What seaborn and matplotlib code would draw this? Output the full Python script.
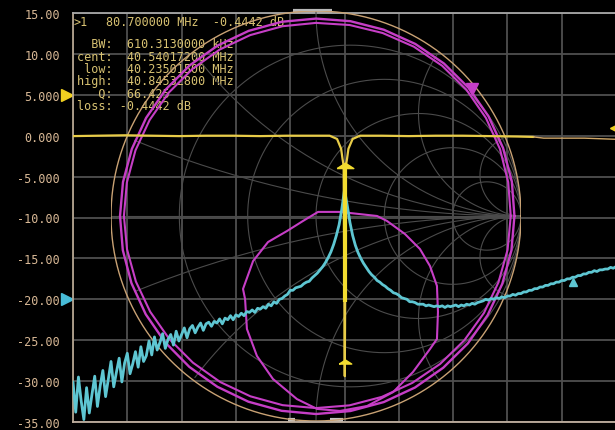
import numpy as np
import pandas as pd
import matplotlib
matplotlib.use("Agg")
import matplotlib.pyplot as plt
import seaborn as sns

# ---------------------------------------------------------------- sweep / scale
F_START, F_STOP = 0.3, 80.7          # MHz
DB_TOP, DB_BOTTOM = 15.0, -35.0      # dB

ytick_values = [15, 10, 5, 0, -5, -10, -15, -20, -25, -30, -35]
ytick_labels = ["15.00", "10.00", "5.000", "0.000", "-5.000", "-10.00",
                "-15.00", "-20.00", "-25.00", "-30.00", "-35.00"]

# ---------------------------------------------------------------- channel 2 (cyan), 201 sweep points
cyan_db = [
    -30.1, -33.8, -29.5, -32.4, -34.7, -30.8, -33.9, -31.6, -29.4, -33.1,
    -30.6, -28.7, -31.9, -29.8, -27.6, -30.7, -28.9, -27.2, -30.1, -27.8,
    -26.6, -29.1, -27.9, -26.4, -28.3, -25.8, -27.6, -26.9, -25.1, -26.8,
    -24.6, -26.2, -25.3, -24.2, -26.0, -24.9, -24.3, -25.6, -23.9, -25.1,
    -24.3, -23.5, -24.7, -23.6, -23.2, -24.1, -23.4, -22.9, -23.8, -23.0,
    -22.8, -23.3, -22.7, -22.9, -22.4, -23.0, -22.3, -22.5, -22.0, -22.5,
    -21.9, -22.1, -21.7, -22.0, -21.5, -21.6, -21.3, -21.6, -21.1, -21.2,
    -20.9, -21.1, -20.6, -20.8, -20.3, -20.5, -20.0, -19.9, -19.6, -19.4,
    -18.9, -18.9, -18.6, -18.5, -18.4, -18.1, -17.9, -17.8, -17.4, -17.1,
    -16.8, -16.4, -16.0, -15.5, -14.9, -14.2, -13.3, -12.2, -10.9, -9.0,
    -6.6,
    -8.5, -10.6, -12.2, -13.4, -14.3, -15.0, -15.6, -16.1, -16.6, -17.0,
    -17.3, -17.7, -17.9, -18.2, -18.4, -18.7, -18.9, -19.2, -19.3, -19.5,
    -19.8, -19.9, -20.0, -20.3, -20.3, -20.4, -20.6, -20.6, -20.6, -20.8,
    -20.7, -20.8, -20.9, -20.8, -20.9, -20.8, -21.0, -20.8, -20.9, -20.8,
    -20.7, -20.9, -20.7, -20.8, -20.6, -20.7, -20.5, -20.6, -20.4, -20.3,
    -20.2, -20.0, -20.1, -19.9, -20.0, -19.8, -19.9, -19.7, -19.8, -19.6,
    -19.6, -19.4, -19.5, -19.3, -19.3, -19.1, -19.1, -18.9, -18.9, -18.7,
    -18.7, -18.5, -18.5, -18.3, -18.3, -18.1, -18.1, -17.9, -17.9, -17.7,
    -17.7, -17.5, -17.5, -17.3, -17.3, -17.1, -17.1, -16.9, -16.9, -16.7,
    -16.7, -16.5, -16.6, -16.4, -16.4, -16.3, -16.3, -16.1, -16.2, -16.0,
]
cyan_f = np.linspace(F_START, F_STOP, len(cyan_db))

# ---------------------------------------------------------------- channel 1 (yellow) transmission with notch
yellow_f = [0.3, 4, 8, 12, 16, 20, 24, 28, 32, 36, 38.3, 39.4, 40.0, 40.2, 40.38,
            40.54, 40.70, 40.88, 41.08, 41.7, 42.8, 46, 50, 54, 58, 62, 66,
            68.5, 70, 72, 76, 80.7]
yellow_db = [-0.05, 0.0, 0.05, 0.0, -0.05, 0.0, 0.0, -0.05, 0.0, 0.0, 0.0, -0.4,
             -1.6, -2.8, -3.7, -29.4, -3.7, -2.8, -1.6, -0.4, 0.0, 0.0, -0.05,
             0.0, 0.0, -0.05, -0.1, -0.15, -0.3, -0.3, -0.3, -0.44]

notch_f = 40.54
notch_bar_db = [-3.7, -20.3]
bw_marker_db = -3.7
low_marker_db = -27.7
cyan_marker_f, cyan_marker_db = 74.3, -17.9
yellow_ref_db = 5.0
cyan_ref_db = -20.0
end_marker_db = 1.0

# ---------------------------------------------------------------- Smith chart trace (reflection coefficient)
ring_angles_deg = list(range(0, 361, 10))
ring_a_radius = [0.968, 0.970, 0.971, 0.972, 0.972, 0.971, 0.969, 0.967, 0.965, 0.963,
                 0.962, 0.961, 0.960, 0.959, 0.958, 0.957, 0.956, 0.956, 0.956, 0.957,
                 0.958, 0.959, 0.960, 0.961, 0.962, 0.964, 0.965, 0.966, 0.966, 0.966,
                 0.966, 0.966, 0.967, 0.967, 0.967, 0.968, 0.968]
ring_b_radius = [0.950, 0.952, 0.955, 0.957, 0.958, 0.957, 0.954, 0.950, 0.946, 0.942,
                 0.940, 0.939, 0.938, 0.937, 0.937, 0.937, 0.937, 0.937, 0.937, 0.936,
                 0.935, 0.934, 0.934, 0.934, 0.935, 0.936, 0.937, 0.937, 0.938, 0.939,
                 0.940, 0.942, 0.944, 0.946, 0.947, 0.949, 0.950]
loop_re = [0.117, 0.005, -0.093, -0.210, -0.288, -0.337, -0.346, -0.356, -0.307,
           -0.234, -0.141, -0.063, 0.010, 0.117, 0.298, 0.346, 0.434, 0.507,
           0.556, 0.590, 0.595, 0.590, 0.556, 0.473, 0.376, 0.249, 0.117]
loop_im = [-0.951, -0.941, -0.893, -0.795, -0.683, -0.551, -0.405, -0.356, -0.220,
           -0.127, -0.073, -0.024, 0.020, 0.020, 0.000, -0.024, -0.088, -0.161,
           -0.244, -0.341, -0.468, -0.600, -0.649, -0.761, -0.859, -0.927, -0.951]
smith_marker_re, smith_marker_im = 0.761, 0.620

smith_r_circles = [0.2, 0.5, 1, 2, 5]
smith_x_arcs = [0.2, 0.5, 1, 2, 5]

# ---------------------------------------------------------------- marker readout
readout_header = ">1"
readout_main = "80.700000 MHz  -0.4442 dB"
readout_lines = ["  BW:  610.3130000 kHz",
                 "cent:  40.54017200 MHz",
                 " low:  40.23501500 MHz",
                 "high:  40.84532800 MHz",
                 "   Q:  66.425",
                 "loss: -0.4442 dB"]

# UI scroll indicators along the frequency axis
top_bar_f = [32.9, 38.6]
bottom_bars_f = [[32.1, 33.2], [38.3, 40.3]]

# ---------------------------------------------------------------- colours
BG = "#000000"
GRID = "#4f4f4f"
SMITH_GRID = "#4b4b4b"
RIM = "#c9a274"
YELLOW = "#e8cc48"
YELLOW_DIM = "#d2a868"
CYAN = "#5ec6d2"
MAGENTA = "#c63ec6"
LABEL = "#d9b996"
READOUT = "#d8c272"

sns.set_theme(style="dark", rc={
    "figure.facecolor": BG, "axes.facecolor": BG, "savefig.facecolor": BG,
    "axes.edgecolor": "#a89c8c", "grid.color": GRID,
})
plt.rcParams["font.family"] = ["DejaVu Sans Mono", "DejaVu Sans"]

W, H = 615, 431
fig = plt.figure(figsize=(W / 100, H / 100), dpi=100)

main_rect = [73 / W, (H - 423) / H, 543 / W, 409 / H]
smith_rect = [111 / W, (H - 422) / H, 410 / W, 410 / H]

# ---------------------------------------------------------------- base axes: grid, scale, readout
ax = fig.add_axes(main_rect)
ax.set_zorder(0)
ax.set_xlim(F_START, F_STOP)
ax.set_ylim(DB_BOTTOM, DB_TOP)
ax.set_xticks(np.linspace(F_START, F_STOP, 11))
ax.set_xticklabels([])
ax.set_yticks(ytick_values)
ax.set_yticklabels(ytick_labels)
ax.tick_params(axis="both", length=0)
ax.tick_params(axis="y", pad=9.5, labelsize=8.5, labelcolor=LABEL)
ax.grid(True, color=GRID, linewidth=1.3)
for side, col in [("left", "#b4a490"), ("top", "#a8a8a8"), ("bottom", "#c0b0a0")]:
    ax.spines[side].set_visible(True)
    ax.spines[side].set_color(col)
    ax.spines[side].set_linewidth(1.3)
ax.spines["right"].set_visible(False)

def px_text(x, y, s):
    ax.text(x / W, 1 - y / H, s, transform=fig.transFigure, color=READOUT,
            fontsize=8.5, va="center", ha="left", clip_on=False)

px_text(74, 22.5, readout_header)
px_text(106, 22.5, readout_main)
for line, yy in zip(readout_lines, [45, 57.5, 69.5, 81.5, 94, 106]):
    px_text(77, yy, line)

# reference-level pointers on the left scale
ytrans = ax.get_yaxis_transform()
ax.plot([-0.011], [yellow_ref_db], marker=">", ms=8, color="#f0d020",
        transform=ytrans, clip_on=False, linestyle="none")
ax.plot([-0.011], [cyan_ref_db], marker=">", ms=8, color="#48bcd8",
        transform=ytrans, clip_on=False, linestyle="none")

xtrans = ax.get_xaxis_transform()
ax.plot(top_bar_f, [1.005, 1.005], color="#b8b8b8", lw=3, transform=xtrans,
        clip_on=False, solid_capstyle="butt")
for seg in bottom_bars_f:
    ax.plot(seg, [0.004, 0.004], color="#c4c4c4", lw=3, transform=xtrans,
            clip_on=False, solid_capstyle="butt")

# ---------------------------------------------------------------- Smith chart
sax = fig.add_axes(smith_rect)
sax.set_zorder(1)
sax.patch.set_alpha(0)
sax.set_xlim(-1, 1)
sax.set_ylim(-1, 1)
sax.axis("off")

t = np.linspace(0, 2 * np.pi, 720)
for r in smith_r_circles:
    c, rad = r / (1 + r), 1 / (1 + r)
    sax.plot(c + rad * np.cos(t), rad * np.sin(t), color=SMITH_GRID, lw=0.8)
for xv in smith_x_arcs:
    for s in (1, -1):
        cx, cy, rad = 1.0, s / xv, 1 / xv
        px_ = cx + rad * np.cos(t)
        py_ = cy + rad * np.sin(t)
        inside = px_ ** 2 + py_ ** 2 <= 1.0005
        sax.plot(np.where(inside, px_, np.nan), np.where(inside, py_, np.nan),
                 color=SMITH_GRID, lw=0.8)
sax.plot([-1, 1], [0, 0], color=SMITH_GRID, lw=0.8)
sax.plot(np.cos(t), np.sin(t), color=RIM, lw=1.0)

ang = np.deg2rad(ring_angles_deg)
ring_a = pd.DataFrame({"re": np.array(ring_a_radius) * np.cos(ang),
                       "im": np.array(ring_a_radius) * np.sin(ang)})
ring_b = pd.DataFrame({"re": np.array(ring_b_radius) * np.cos(ang),
                       "im": np.array(ring_b_radius) * np.sin(ang)})
loop = pd.DataFrame({"re": loop_re, "im": loop_im})
for df, lw in [(ring_a, 1.7), (ring_b, 1.5), (loop, 1.5)]:
    sns.lineplot(data=df, x="re", y="im", sort=False, estimator=None,
                 color=MAGENTA, lw=lw, ax=sax, legend=False)
sax.plot([smith_marker_re], [smith_marker_im], marker="v", ms=8,
         color=MAGENTA, linestyle="none")
sax.set_xlim(-1, 1)
sax.set_ylim(-1, 1)
sax.set_xlabel("")
sax.set_ylabel("")

# ---------------------------------------------------------------- traces on top
tax = fig.add_axes(main_rect)
tax.set_zorder(2)
tax.patch.set_alpha(0)
tax.set_xlim(F_START, F_STOP)
tax.set_ylim(DB_BOTTOM, DB_TOP)
tax.axis("off")

cyan_df = pd.DataFrame({"f": cyan_f, "db": cyan_db})
sns.lineplot(data=cyan_df, x="f", y="db", estimator=None, sort=False,
             color=CYAN, lw=2.0, ax=tax, legend=False)

yel_df = pd.DataFrame({"f": yellow_f, "db": yellow_db})
sns.lineplot(data=yel_df[yel_df.f <= 68.5], x="f", y="db", estimator=None,
             sort=False, color=YELLOW, lw=1.6, ax=tax, legend=False)
sns.lineplot(data=yel_df[yel_df.f >= 68.5], x="f", y="db", estimator=None,
             sort=False, color=YELLOW_DIM, lw=1.0, ax=tax, legend=False)
tax.plot([notch_f, notch_f], notch_bar_db, color="#f2dc30", lw=3.0,
         solid_capstyle="butt")

flat_tri = [(-1.0, -0.25), (1.0, -0.25), (0.0, 0.4), (-1.0, -0.25)]
tax.plot([notch_f], [bw_marker_db], marker=flat_tri, ms=12, color="#f2dc30",
         linestyle="none")
tax.plot([notch_f], [low_marker_db], marker=flat_tri, ms=9, color="#f2dc30",
         linestyle="none")
tax.plot([cyan_marker_f], [cyan_marker_db], marker="^", ms=6, color=CYAN,
         linestyle="none")
tax.plot([F_STOP], [end_marker_db], marker="<", ms=9, color="#f0d020",
         linestyle="none", clip_on=False)
tax.set_xlim(F_START, F_STOP)
tax.set_ylim(DB_BOTTOM, DB_TOP)

fig.savefig("out.png", dpi=100, facecolor=BG)
